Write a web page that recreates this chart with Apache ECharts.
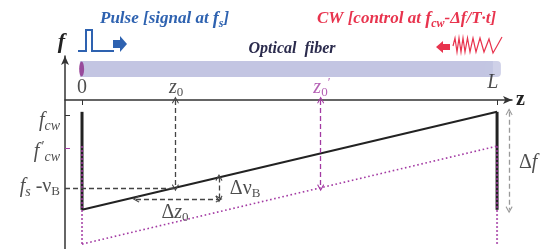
<!DOCTYPE html>
<html>
<head>
<meta charset="utf-8">
<script src="https://cdn.jsdelivr.net/npm/echarts@6/dist/echarts.min.js"></script>
<style>
html, body { margin: 0; padding: 0; background: #fff; }
#chart { width: 542px; height: 249px; }
</style>
</head>
<body>
<div id="chart"></div>
<script>
// z axis: 0 .. L (L = 1); f axis in arbitrary units (fcw = 10, delta f = 10)
var zRange = [-0.041, 1.036];
var fRange = [-4, 15.7];
var zTicks = [0, 1];
var fTicks = [9.7];              // fcw tick
var fTickShift = 6.25;           // f'cw tick
var fiberZ = [-0.005, 0.99];
var fiberF = 14.37;
var ctrlLine = [[0, 0], [1, 10]];        // CW control freq along fiber
var ctrlLine2 = [[0, -3.5], [1, 6.5]];   // same, shifted (f'cw)
var barLeft = [[0, 0], [0, 10]];
var barRight = [[1, 0], [1, 10]];
var barLeft2 = [[0, 6.5], [0, -3.6]];
var barRight2 = [[1, 6.5], [1, -3.6]];
var fsNuB = 2.25;
var z0 = 0.225, z0s = 0.575;
var zAxisF = 11.2;
var dz0Z = [0.13, 0.33], dz0F = 1.1;
var dNuBF = [3.3, 1.1];
var dfZ = 1.029, dfF = [10, 0];

var serif = 'Liberation Serif';
var mag = '#a33aa3';
var ink = '#222';
var fiberColor = '#c3c5e2';

// chevron arrow head used by the dashed arrows
var chev = 'path://M5,0 L10,9 L8.8,10 L5,3.2 L1.2,10 L0,9 Z';

var rich = {
    n: { fontFamily: serif, fontSize: 20, color: ink },
    i: { fontFamily: serif, fontStyle: 'italic', fontSize: 20, color: ink },
    s: { fontFamily: serif, fontStyle: 'italic', fontSize: 14, color: ink, padding: [10, 0, 0, 0] },
    sn: { fontFamily: serif, fontSize: 13, color: ink, padding: [10, 0, 0, 0] },
    pr: { fontFamily: serif, fontSize: 14, color: ink, padding: [0, 0, 10, 2] },
    mi: { fontFamily: serif, fontStyle: 'italic', fontSize: 20, color: mag },
    ms: { fontFamily: serif, fontSize: 13, color: mag, padding: [10, 0, 0, 0] },
    mp: { fontFamily: serif, fontSize: 13, color: mag, padding: [0, 0, 10, 0] }
};

// text annotations anchored in data coords
var centerLabels = [
    { value: [0, 12.43], text: '{n|0}' },
    { value: [0.227, 12.43], text: '{i|z}{sn|0}' },
    { value: [0.578, 12.43], text: '{mi|z}{ms|0}{mp|\u2032}' },
    { value: [0.99, 12.94], text: '{i|L}' },
    { value: [0.224, -0.3], text: '{n|\u0394}{i|z}{sn|0}' },
    { value: [0.393, 2.12], text: '{n|\u0394\u03bd}{sn|B}' },
    { value: [1.075, 4.78], text: '{n|\u0394}{i|f}' }
];
var leftLabels = [
    { value: [-0.053, 9.07], text: '{i|f}{s|cw}' },
    { value: [-0.053, 5.9], text: '{i|f}{pr|\u2032}{s|cw}' },
    { value: [-0.053, 2.33], text: '{i|f}{s|s}{n| -\u03bd}{sn|B}' }
];

function seg(a, b, color, type, width, s0, s1) {
    return [
        { coord: a, symbol: s0 || 'none' },
        { coord: b, symbol: s1 || 'none', lineStyle: { color: color, type: type, width: width } }
    ];
}

var chart = echarts.init(document.getElementById('chart'));
var dash = [5, 3];
var option = {
    animation: false,
    grid: { left: 65, top: 56, right: 30, bottom: 0 },
    xAxis: {
        type: 'value', min: zRange[0], max: zRange[1],
        position: 'top', offset: -44,
        name: 'z', nameLocation: 'end', nameGap: 4,
        nameTextStyle: { fontFamily: serif, fontWeight: 'bold', fontSize: 20, color: ink },
        axisLine: { show: true, onZero: false, lineStyle: { color: '#333', width: 1.5 }, symbol: ['none', 'arrow'], symbolSize: [6, 9] },
        axisTick: { show: true, inside: true, length: 5, customValues: zTicks, lineStyle: { color: '#333' } },
        axisLabel: { show: false },
        splitLine: { show: false }
    },
    yAxis: {
        type: 'value', min: fRange[0], max: fRange[1],
        name: 'f', nameLocation: 'end', nameGap: 3,
        nameTextStyle: { fontFamily: serif, fontStyle: 'italic', fontWeight: 'bold', fontSize: 22, color: ink, align: 'right' },
        axisLine: { show: true, onZero: false, lineStyle: { color: '#333', width: 1.5 }, symbol: ['none', 'arrow'], symbolSize: [6, 9] },
        axisTick: { show: true, inside: true, length: 5, customValues: fTicks, lineStyle: { color: '#333' } },
        axisLabel: { show: false },
        splitLine: { show: false }
    },
    graphic: [
        { type: 'text', x: 100, y: 19, style: { text: '{b|Pulse [signal at }{bi|f}{bs|s}{b|]}', verticalAlign: 'middle',
            rich: {
                b: { fontFamily: serif, fontStyle: 'italic', fontWeight: 'bold', fontSize: 17, fill: '#2e62b0' },
                bi: { fontFamily: serif, fontStyle: 'italic', fontWeight: 'bold', fontSize: 18, fill: '#2e62b0' },
                bs: { fontFamily: serif, fontStyle: 'italic', fontWeight: 'bold', fontSize: 12, fill: '#2e62b0', padding: [9, 0, 0, 0] }
            } } },
        { type: 'text', x: 317, y: 19, style: { text: '{r|CW [control at }{ri|f}{rs|cw}{r|-\u0394f/T\u00b7t]}', verticalAlign: 'middle',
            rich: {
                r: { fontFamily: serif, fontStyle: 'italic', fontWeight: 'bold', fontSize: 17, fill: '#e8344e' },
                ri: { fontFamily: serif, fontStyle: 'italic', fontWeight: 'bold', fontSize: 18, fill: '#e8344e' },
                rs: { fontFamily: serif, fontStyle: 'italic', fontWeight: 'bold', fontSize: 12, fill: '#e8344e', padding: [9, 0, 0, 0] }
            } } },
        { type: 'text', x: 292, y: 49, style: { text: 'Optical  fiber', align: 'center', verticalAlign: 'middle',
            fontFamily: serif, fontStyle: 'italic', fontWeight: 'bold', fontSize: 16, fill: '#2b2b4d' } },
        // pulse icon
        { type: 'polyline', shape: { points: [[78, 51], [86, 51], [86, 30], [92, 30], [92, 51], [114, 51]] },
            style: { stroke: '#2e62b0', lineWidth: 2, fill: null } },
        { type: 'polygon', shape: { points: [[113, 40], [120, 40], [120, 36], [127, 44], [120, 52], [120, 48], [113, 48]] },
            style: { fill: '#2e62b0' } },
        // chirped CW icon
        { type: 'polygon', shape: { points: [[450, 44], [443, 44], [443, 41], [436, 47], [443, 53], [443, 50], [450, 50]] },
            style: { fill: '#e8344e' } },
        { type: 'polyline', shape: { points: [[453, 46], [455, 38], [457, 52], [459, 38], [461, 52], [463, 38], [465, 52], [467.5, 38],
            [470, 52], [473, 38], [476, 52], [480, 38], [484, 52], [489, 39], [493, 53], [497, 46], [502, 37]] },
            style: { stroke: '#e8344e', lineWidth: 1.2, fill: null } }
    ],
    series: [
        { type: 'line', clip: false, symbol: 'none', data: [[fiberZ[0], fiberF], [fiberZ[1], fiberF]],
            lineStyle: { color: fiberColor, width: 16, cap: 'butt' }, z: 1 },
        { type: 'scatter', clip: false, data: [[fiberZ[1], fiberF]], symbol: 'roundRect', symbolSize: [16, 16],
            itemStyle: { color: fiberColor }, z: 1 },
        { type: 'scatter', clip: false, data: [[-0.001, fiberF]], symbol: 'circle', symbolSize: [5, 15],
            itemStyle: { color: '#8c2a8a' }, z: 6 },
        { type: 'line', clip: false, symbol: 'none', data: barLeft, lineStyle: { color: ink, width: 3 } },
        { type: 'line', clip: false, symbol: 'none', data: barRight, lineStyle: { color: ink, width: 3 } },
        { type: 'line', clip: false, symbol: 'none', data: ctrlLine, lineStyle: { color: ink, width: 2 } },
        { type: 'line', clip: false, symbol: 'none', data: ctrlLine2, lineStyle: { color: mag, width: 1.6, type: [1.6, 2.6] } },
        { type: 'line', clip: false, symbol: 'none', data: barLeft2, lineStyle: { color: mag, width: 2, type: [1.6, 2.4] } },
        { type: 'line', clip: false, symbol: 'none', data: barRight2, lineStyle: { color: mag, width: 2, type: [1.6, 2.4] } },
        { type: 'line', clip: false, symbol: 'none', data: [],
            markLine: {
                silent: true, symbolSize: [7, 7], label: { show: false },
                data: [
                    seg([zRange[0], fsNuB], [z0, fsNuB], '#444', dash, 1.3),
                    seg([z0, zAxisF], [z0, fsNuB], '#444', dash, 1.3, chev, chev),
                    seg([z0s, zAxisF], [z0s, fsNuB], mag, dash, 1.3, chev, chev),
                    seg([dz0Z[0], dz0F], [dz0Z[1], dz0F], '#444', dash, 1.3, chev, chev),
                    seg([dz0Z[1], dNuBF[0]], [dz0Z[1], dNuBF[1]], '#444', dash, 1.3, chev, chev),
                    seg([dfZ, dfF[0]], [dfZ, dfF[1]], '#999', dash, 1.3, chev, chev),
                    seg([dfZ - 0.017, dfF[0]], [dfZ + 0.017, dfF[0]], ink, 'solid', 1),
                    seg([dfZ - 0.017, dfF[1]], [dfZ + 0.017, dfF[1]], ink, 'solid', 1),
                    seg([zRange[0], fTickShift], [zRange[0] + 0.012, fTickShift], mag, 'solid', 1)
                ]
            } },
        { type: 'scatter', clip: false, symbolSize: 0, silent: true,
            data: centerLabels.map(function (d) {
                return { value: d.value, label: { show: true, position: 'inside', formatter: d.text, rich: rich } };
            }) },
        { type: 'scatter', clip: false, symbolSize: 0, silent: true,
            data: leftLabels.map(function (d) {
                return { value: d.value, label: { show: true, position: 'left', distance: 0, formatter: d.text, rich: rich } };
            }) }
    ]
};
chart.setOption(option);
</script>
</body>
</html>
